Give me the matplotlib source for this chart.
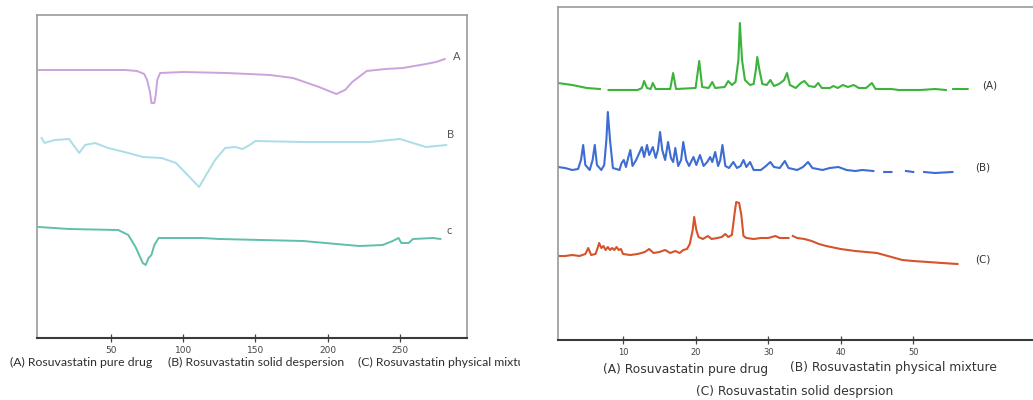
import numpy as np
import matplotlib.pyplot as plt
from matplotlib.transforms import Bbox

# DSC thermograms (temperature in C, heat flow in arbitrary units)
dsc_a_temp = [0, 30, 60, 68, 73, 75, 77, 78, 80, 81, 82, 84, 100, 130, 160,
              176, 194, 206, 212, 217, 227, 240, 252, 268, 275, 281]
dsc_a_flow = [268, 268, 268, 267, 264, 258, 246, 235, 235, 243, 258, 265, 266,
              265, 263, 260, 251, 244, 248, 256, 267, 269, 270, 274, 276, 279]

dsc_b_temp = [2, 4, 11, 21, 28, 32, 39, 48, 62, 72, 85, 95, 101, 111, 115, 122,
              129, 136, 141, 146, 150, 183, 229, 250, 259, 268, 282]
dsc_b_flow = [200, 195, 198, 199, 185, 193, 195, 190, 185, 181, 180, 175, 166,
              151, 161, 178, 190, 191, 189, 193, 197, 196, 196, 199, 195, 191, 193]

dsc_c_temp = [0, 21, 55, 62, 67, 72, 74, 76, 78, 80, 83, 113, 125, 183, 206,
              222, 238, 245, 249, 251, 256, 259, 273, 278]
dsc_c_flow = [111, 109, 108, 103, 91, 75, 73, 80, 83, 93, 100, 100, 99, 97, 94,
              92, 93, 97, 100, 95, 95, 99, 100, 99]

# XRD patterns (2 theta, intensity in arbitrary units), nan marks a gap
xrd_a_angle = [1, 3, 5, 6.8, 7.4, 8, 12, 12.6, 12.9, 13.3, 13.8, 14.1, 14.5, 16.5,
               16.9, 17.3, 20, 20.5, 20.9, 21.8, 22.3, 22.7, 24, 24.5, 25, 25.5,
               25.9, 26.1, 26.4, 26.8, 27.5, 28, 28.3, 28.5, 28.8, 29.2, 29.8,
               30.3, 30.8, 31.5, 32.2, 32.6, 33, 33.8, 34.5, 35, 35.6, 36.4, 36.9,
               37.4, 38.5, 39, 39.6, 40.3, 41, 41.8, 42.5, 43.5, 44.3, 44.8, 47,
               48, 51, 53, 54.5, 55, 55.5, 57.5]
xrd_a_int = [257, 255, 252, 251, np.nan, 250, 250, 252, 259, 252, 251, 257, 251,
             251, 267, 251, 252, 279, 253, 252, 258, 252, 253, 259, 255, 258, 280,
             317, 280, 260, 255, 256, 270, 283, 270, 256, 255, 260, 254, 256, 260,
             267, 255, 252, 257, 259, 254, 253, 257, 252, 252, 254, 252, 255, 253,
             255, 252, 252, 257, 251, 251, 250, 250, 251, 250, np.nan, 251, 251]

xrd_b_angle = [1, 2, 3, 3.8, 4.2, 4.5, 4.8, 5.4, 5.8, 6.1, 6.4, 7, 7.4, 7.7, 7.9,
               8.2, 8.6, 9.5, 9.8, 10.1, 10.4, 10.7, 11, 11.3, 11.8, 12.3, 12.6,
               12.9, 13.3, 13.6, 14.1, 14.5, 14.8, 15.1, 15.4, 15.8, 16.2, 16.6,
               16.9, 17.2, 17.6, 18, 18.3, 18.7, 19.1, 19.7, 20.1, 20.6, 21.1,
               21.6, 22, 22.3, 22.7, 23.1, 23.4, 23.7, 24.1, 24.6, 25.2, 25.7,
               26.2, 26.6, 27, 27.5, 28, 29, 29.7, 30.3, 30.8, 31.6, 32.3, 32.8,
               34, 34.8, 35.5, 36.1, 37.5, 38.5, 39.7, 40.8, 42, 43, 44.5, 45.2,
               46, 47, 48, 49, 50, 50.7, 51.5, 53, 55.4]
xrd_b_int = [173, 172, 170, 171, 180, 195, 175, 170, 180, 195, 175, 170, 175, 200,
             228, 200, 172, 170, 177, 180, 173, 182, 190, 174, 180, 188, 193, 183,
             195, 185, 193, 182, 190, 208, 190, 180, 198, 182, 178, 192, 174, 180,
             198, 180, 174, 183, 175, 185, 174, 178, 183, 178, 188, 174, 180, 195,
             174, 172, 178, 172, 174, 180, 173, 178, 170, 170, 174, 178, 173, 172,
             179, 172, 170, 173, 178, 172, 170, 172, 173, 170, 169, 170, 169,
             np.nan, 168, 168, np.nan, 169, 168, np.nan, 168, 167, 168]

xrd_c_angle = [1, 2, 3, 4, 4.8, 5.2, 5.6, 6.2, 6.5, 6.7, 7, 7.3, 7.6, 7.9, 8.2,
               8.5, 8.8, 9.1, 9.4, 9.7, 10, 11, 12, 13, 13.6, 14.2, 15, 15.8, 16.5,
               17.2, 17.8, 18.3, 18.8, 19.2, 19.6, 19.8, 20.1, 20.4, 21, 21.7,
               22.2, 23, 23.6, 24.1, 24.5, 25, 25.4, 25.6, 26, 26.3, 26.6, 27, 28,
               29, 30, 31, 31.6, 32.8, 33.1, 33.4, 34, 35, 36, 37, 38, 40, 42, 45,
               47, 48.5, 50, 52, 54, 56.1]
xrd_c_int = [84, 84, 85, 84, 86, 92, 85, 86, 92, 97, 92, 94, 90, 93, 90, 92, 90,
             93, 90, 91, 86, 85, 86, 88, 91, 87, 88, 90, 87, 89, 87, 90, 91, 96,
             110, 123, 110, 103, 101, 104, 101, 102, 103, 106, 103, 105, 128, 138,
             137, 125, 104, 102, 101, 102, 102, 104, 102, 102, np.nan, 104, 102,
             101, 99, 96, 94, 91, 89, 87, 83, 80, 79, 78, 77, 76]

dsc_ticks = [50, 100, 150, 200, 250]
xrd_ticks = [10, 20, 30, 40, 50]

dsc_captions = ['(A) Rosuvastatin pure drug', '(B) Rosuvastatin solid despersion',
                '(C) Rosuvastatin physical mixture']
xrd_captions = ['(A) Rosuvastatin pure drug', '(B) Rosuvastatin physical mixture',
                '(C) Rosuvastatin solid desprsion']

fig = plt.figure(figsize=(10.33, 4), dpi=100)


def style_frame(ax):
    # Thin grey frame, darker bottom axis with small crossing ticks
    for side in ['top', 'left', 'right']:
        ax.spines[side].set_color('#9a9a9a')
        ax.spines[side].set_linewidth(1.2)
    ax.spines['bottom'].set_color('#3a3a3a')
    ax.spines['bottom'].set_linewidth(1.5)
    ax.set_yticks([])
    ax.tick_params(axis='x', direction='inout', length=6, width=0.9,
                   colors='#444444', labelsize=6.5, pad=3)


# Left panel: DSC thermograms
ax1 = fig.add_axes([37 / 1033, 62 / 400, 430 / 1033, 323 / 400])
ax1.plot(dsc_a_temp, dsc_a_flow, color='#cba3dc', lw=1.4)
ax1.plot(dsc_b_temp, dsc_b_flow, color='#abdde9', lw=1.4)
ax1.plot(dsc_c_temp, dsc_c_flow, color='#5fbfaa', lw=1.4)
ax1.set_xlim(-1.2, 296.4)
ax1.set_ylim(0, 323)
ax1.set_xticks(dsc_ticks)
style_frame(ax1)
ax1.text(289, 281, 'A', fontsize=8, color='#555555', family='Lato',
         ha='center', va='center')
ax1.text(285, 204, 'B', fontsize=8, color='#555555', family='Lato',
         ha='center', va='center')
ax1.text(284, 108, 'c', fontsize=8, color='#555555', family='Lato',
         ha='center', va='center')

# Right panel: XRD patterns, axes run past the right edge like the source
ax2 = fig.add_axes([558 / 1033, 60 / 400, 480 / 1033, 333 / 400])
ax2.plot(xrd_a_angle, xrd_a_int, color='#3cb43c', lw=1.5)
ax2.plot(xrd_b_angle, xrd_b_int, color='#3d6cd2', lw=1.5)
ax2.plot(xrd_c_angle, xrd_c_int, color='#d6532b', lw=1.5)
ax2.set_xlim(1.03, 67.2)
ax2.set_ylim(0, 333)
ax2.set_xticks(xrd_ticks)
style_frame(ax2)
ax2.spines['right'].set_visible(False)
ax2.tick_params(axis='x', labelsize=6)
ax2.text(59.5, 254, '(A)', fontsize=7.5, color='#333333', va='center')
ax2.text(58.6, 172, '(B)', fontsize=7.5, color='#333333', va='center')
ax2.text(58.6, 81, '(C)', fontsize=7.5, color='#333333', va='center')

# Captions under each panel
fig.text(10 / 1033, 1 - 362 / 400, dsc_captions[0], fontsize=8.8,
         family='Lato', color='#2e2e2e', va='center')
fig.text(168 / 1033, 1 - 362 / 400, dsc_captions[1], fontsize=8.8,
         family='Lato', color='#2e2e2e', va='center')
cap_c = fig.text(358 / 1033, 1 - 362 / 400, dsc_captions[2], fontsize=8.8,
                 family='Lato', color='#2e2e2e', va='center')
# The source cuts this caption off where the left picture ends
cap_c.set_clip_on(True)
cap_c.set_clip_box(Bbox.from_extents(0, 0, 520, 400))

fig.text(603 / 1033, 1 - 370 / 400, xrd_captions[0], fontsize=8.8,
         color='#333333', va='center')
fig.text(790 / 1033, 1 - 368 / 400, xrd_captions[1], fontsize=8.8,
         color='#333333', va='center')
fig.text(795 / 1033, 1 - 392 / 400, xrd_captions[2], fontsize=8.8,
         color='#333333', va='center', ha='center')

plt.savefig('out.png', dpi=100)
plt.close()
